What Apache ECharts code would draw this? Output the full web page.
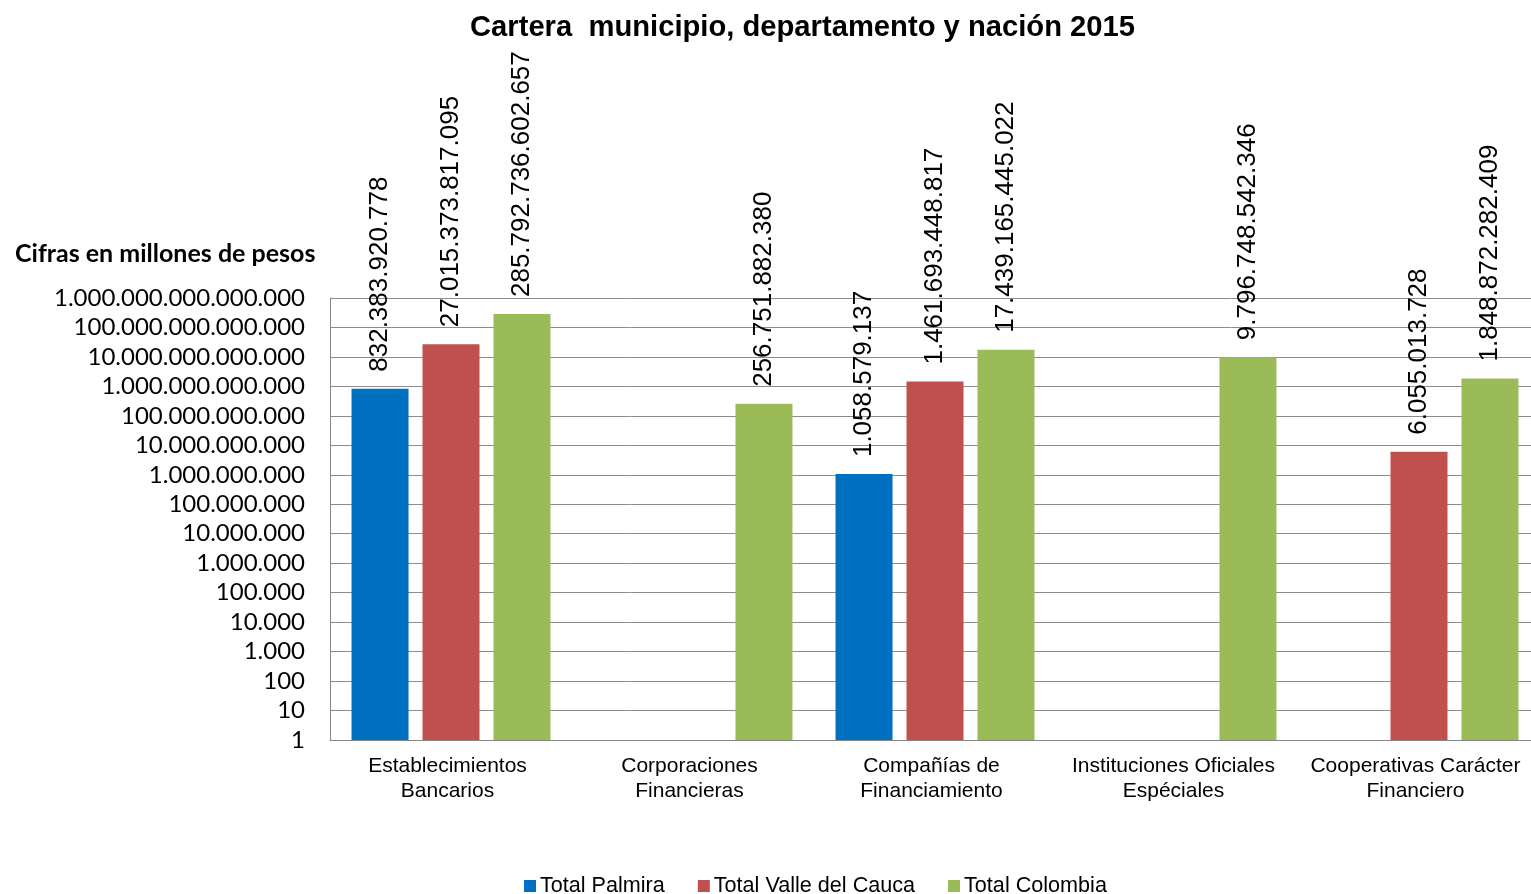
<!DOCTYPE html>
<html>
<head>
<meta charset="utf-8">
<script src="https://cdn.jsdelivr.net/npm/echarts@6/dist/echarts.min.js"></script>
<style>html,body{margin:0;padding:0;background:#fff}#c{width:1531px;height:894px}</style>
</head>
<body>
<div id="c"></div>
<script>
const categories = ["Establecimientos\nBancarios", "Corporaciones\nFinancieras", "Compañías de\nFinanciamiento", "Instituciones Oficiales\nEspéciales", "Cooperativas Carácter\nFinanciero"];
const seriesNames = ["Total Palmira", "Total Valle del Cauca", "Total Colombia"];
const palmira = [832383920778, null, 1058579137, null, null];
const valle = [27015373817095, null, 1461693448817, null, 6055013728];
const colombia = [285792736602657, 256751882380, 17439165445022, 9796748542346, 1848872282409];
const colors = ["#0070C0", "#C0504D", "#9BBB59"];

function fmt(v) {
  const s = Math.round(v).toString();
  return s.replace(/\B(?=(\d{3})+(?!\d))/g, ".");
}
function fmtTick(v) {
  const e = Math.round(Math.log10(v));
  return ('1' + '0'.repeat(e)).replace(/\B(?=(\d{3})+(?!\d))/g, ".");
}

const chart = echarts.init(document.getElementById('c'));
const labelStyle = {
  show: true, position: 'top', rotate: 90, align: 'left', verticalAlign: 'middle',
  distance: 17, fontFamily: 'Liberation Sans, Arial', fontSize: 26, color: '#000',
  formatter: p => fmt(p.value)
};
const datas = [palmira, valle, colombia];
chart.setOption({
  animation: false,
  title: [
    { text: 'Cartera  municipio, departamento y nación 2015', left: 465, top: 8,
      textStyle: { fontFamily: 'Liberation Sans, Arial', fontWeight: 'bold', fontSize: 29.2, color: '#000' } },
    { text: 'Cifras en millones de pesos', left: 10, top: 236,
      textStyle: { fontFamily: 'Lato', fontWeight: 'bold', fontSize: 25, color: '#000' } }
  ],
  legend: {
    top: 870, left: 519, itemWidth: 12, itemHeight: 12, itemGap: 33,
    icon: 'rect',
    textStyle: { fontFamily: 'Liberation Sans, Arial', fontSize: 21.6, color: '#000', padding: [0, 0, 0, -1] },
    data: seriesNames
  },
  grid: { left: 330, right: -9, top: 298, bottom: 154, containLabel: false, outerBoundsMode: 'none' },
  xAxis: {
    type: 'category', data: categories,
    axisLine: { show: true, lineStyle: { color: '#868686', width: 1 } },
    axisTick: { show: false },
    axisLabel: { fontFamily: 'Liberation Sans, Arial', fontSize: 21, color: '#000', lineHeight: 25, margin: 14, interval: 0, padding: [0, 7, 0, 0] }
  },
  yAxis: {
    type: 'log', logBase: 10, min: 1, max: 1e15, interval: 1,
    axisLine: { show: true, lineStyle: { color: '#868686', width: 1 } },
    axisTick: { show: false },
    splitLine: { show: true, lineStyle: { color: '#8c8c8c', width: 1 } },
    axisLabel: { fontFamily: 'Lato', fontSize: 24, color: '#000', margin: 25, formatter: v => fmtTick(v) }
  },
  series: datas.map((d, i) => ({
    name: seriesNames[i], type: 'bar', data: d, barWidth: 57, barGap: '24.5%',
    itemStyle: { color: colors[i] },
    label: labelStyle
  }))
});
</script>
</body>
</html>
